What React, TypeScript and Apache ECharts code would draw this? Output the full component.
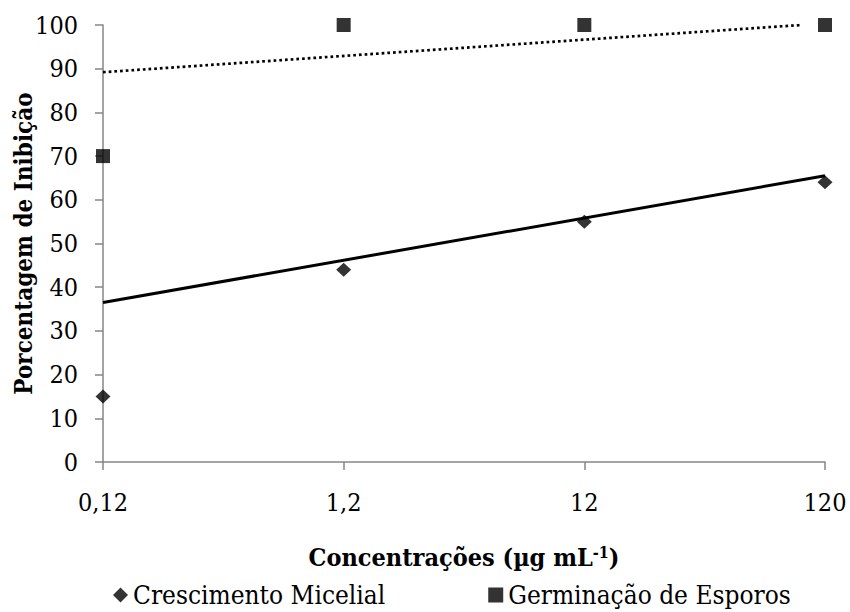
import React, { useEffect, useRef } from "react";
import * as echarts from "echarts";

const categories = ["0,12", "1,2", "12", "120"];
const micelial = [15, 44, 55, 64];
const germinacao = [70, 100, 100, 100];
// trend lines: [x index, value]
const trendMicelial = [[0, 36.5], [3, 65.5]];
const trendGerminacao = [[0, 89.2], [2.9, 100]];
const yTicks = { min: 0, max: 100, interval: 10 };

const FONT = "DejaVu Serif Condensed";

export default function App() {
  const ref = useRef<HTMLDivElement>(null);
  useEffect(() => {
    const chart = echarts.init(ref.current!, null, { renderer: "svg" });
    const axisColor = "#868686";
    chart.setOption({
      animation: false,
      backgroundColor: "#fff",
      textStyle: { fontFamily: FONT, color: "#000" },
      grid: { left: 103, right: 25, top: 25, bottom: 150, containLabel: false, outerBoundsMode: "none" },
      xAxis: {
        type: "value",
        min: 0,
        max: categories.length - 1,
        interval: 1,
        axisLine: { show: true, lineStyle: { color: axisColor, width: 1.5 } },
        axisTick: { show: true, length: 8, lineStyle: { color: axisColor, width: 1.5 } },
        splitLine: { show: false },
        axisLabel: {
          formatter: (v: number) => categories[v] ?? "",
          fontSize: 25,
          fontFamily: FONT,
          color: "#000",
          margin: 28,
        },
        name: "{b|Concentrações (µg mL}{s|-1}{b|)}",
        nameLocation: "middle",
        nameGap: 82,
        nameMoveOverlap: false,
        nameTextStyle: {
          fontFamily: FONT,
          rich: {
            b: { fontSize: 25, fontWeight: "bold", fontFamily: FONT, color: "#000" },
            s: { fontSize: 16, fontWeight: "bold", fontFamily: FONT, color: "#000", verticalAlign: "top", padding: [0, 0, 10, 0] },
          },
        },
      },
      yAxis: {
        type: "value",
        min: yTicks.min,
        max: yTicks.max,
        interval: yTicks.interval,
        axisLine: { show: true, lineStyle: { color: axisColor, width: 1.5 } },
        axisTick: { show: true, length: 8, lineStyle: { color: axisColor, width: 1.5 } },
        splitLine: { show: false },
        axisLabel: { fontSize: 25, fontFamily: FONT, color: "#000", margin: 25 },
        name: "Porcentagem de Inibição",
        nameLocation: "middle",
        nameGap: 68,
        nameMoveOverlap: false,
        nameTextStyle: { fontSize: 24, fontWeight: "bold", fontFamily: FONT, color: "#000" },
      },
      legend: {
        data: [
          { name: "Crescimento Micelial", icon: "diamond" },
          { name: "Germinação de Esporos", icon: "rect" },
        ],
        left: 108,
        top: 577,
        itemWidth: 15,
        itemHeight: 15,
        itemGap: 103,
        textStyle: { fontSize: 26, fontFamily: FONT, color: "#000" },
      },
      series: [
        {
          name: "trend-micelial",
          type: "line",
          data: trendMicelial,
          symbol: "none",
          lineStyle: { color: "#000", width: 3 },
          silent: true,
        },
        {
          name: "trend-germinacao",
          type: "line",
          data: trendGerminacao,
          symbol: "none",
          lineStyle: { color: "#000", width: 2.7, type: [2.7, 3] },
          silent: true,
        },
        {
          name: "Crescimento Micelial",
          type: "scatter",
          symbol: "diamond",
          symbolSize: [15, 14],
          itemStyle: { color: "#000" },
          data: micelial.map((v, i) => [i, v]),
        },
        {
          name: "Germinação de Esporos",
          type: "scatter",
          symbol: "rect",
          symbolSize: 14,
          itemStyle: { color: "#000" },
          data: germinacao.map((v, i) => [i, v]),
        },
      ],
    });
    return () => chart.dispose();
  }, []);
  return <div ref={ref} style={{ width: 850, height: 612, position: "absolute", left: 0, top: 0 }} />;
}
